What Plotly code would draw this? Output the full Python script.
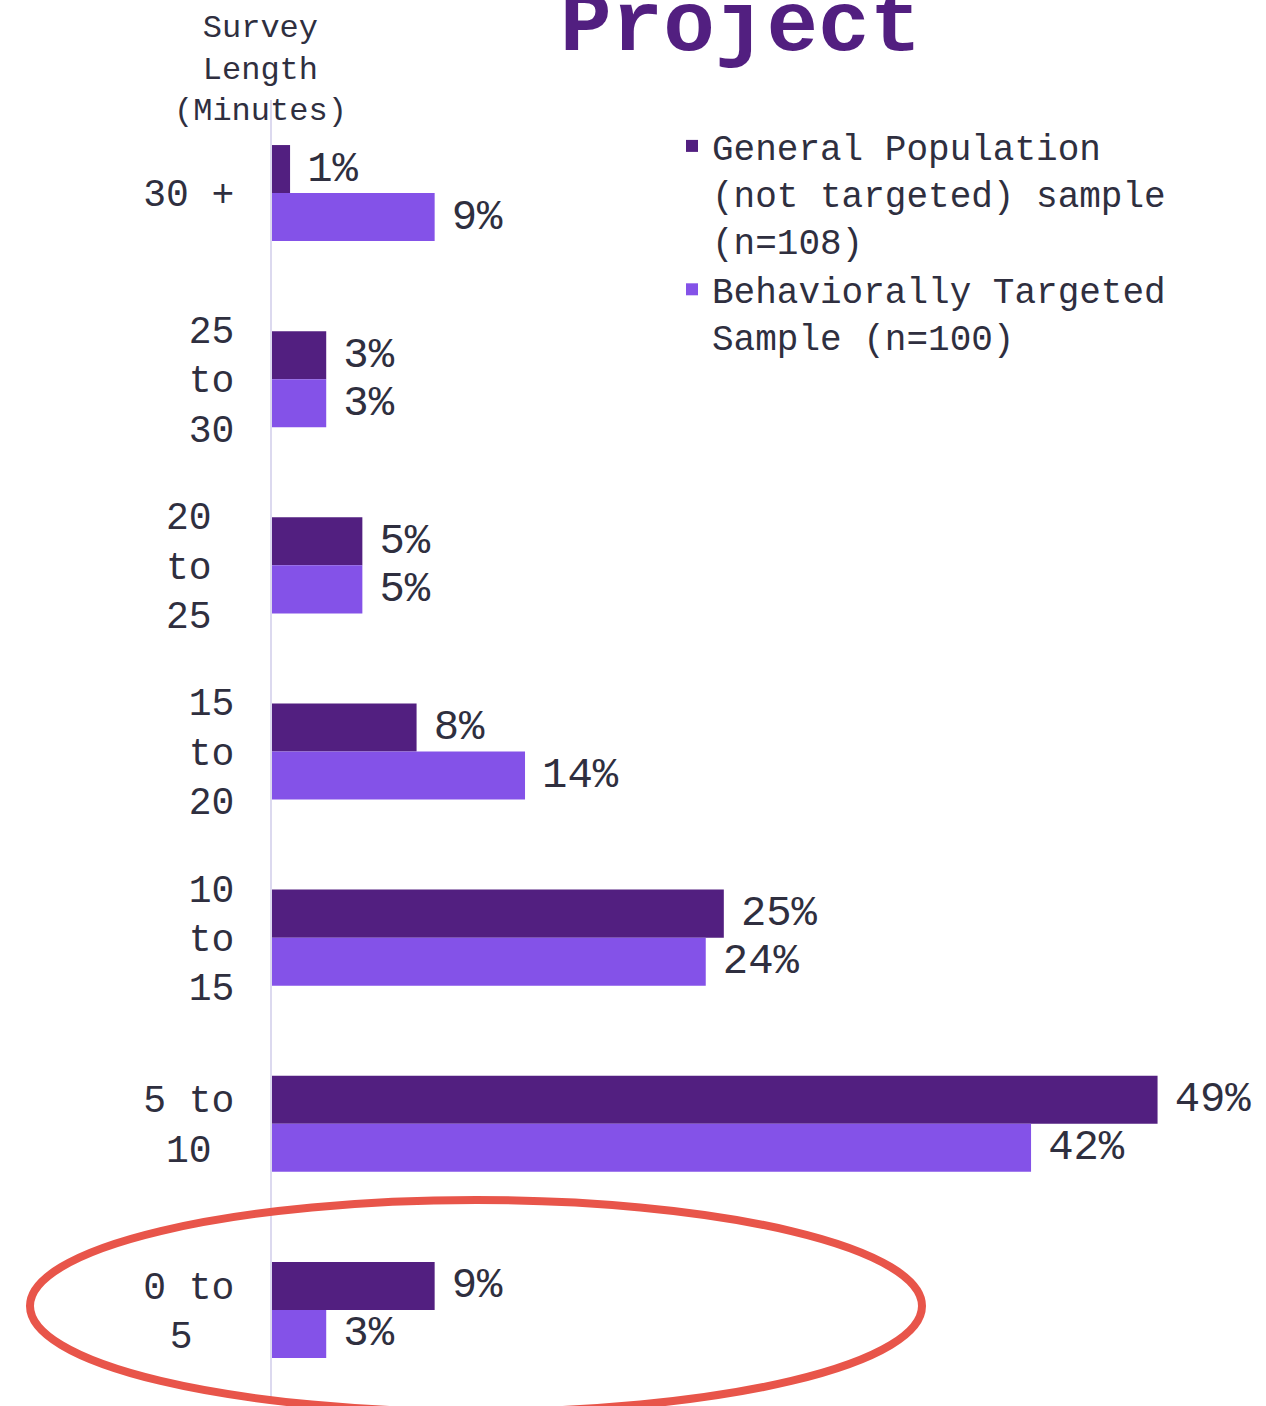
import plotly.graph_objects as go

# Survey length categories, top to bottom
categories = ["30 +", "25 to 30", "20 to 25", "15 to 20", "10 to 15", "5 to 10", "0 to 5"]
# Tick text with manual line breaks (monospace, nbsp pads keep lines aligned)
tick_labels = [
    "30 +",
    "25<br>to<br>30",
    "20\u00a0<br>to\u00a0<br>25\u00a0",
    "15<br>to<br>20",
    "10<br>to<br>15",
    "5 to<br>10\u00a0",
    "0 to<br>5\u00a0\u2002",
]

general_pop = [1, 3, 5, 8, 25, 49, 9]
behav_targeted = [9, 3, 5, 14, 24, 42, 3]

series_names = [
    "General Population<br>(not targeted) sample<br>(n=108)",
    "Behaviorally Targeted<br>Sample (n=100)",
]
series_colors = ["#521f80", "#8452e8"]

FONT = "Liberation Mono, Courier New, monospace"
TEXT_COLOR = "#2f2f3f"

fig = go.Figure()
for name, vals, col in zip(series_names, [general_pop, behav_targeted], series_colors):
    fig.add_trace(go.Bar(
        y=categories,
        x=vals,
        orientation="h",
        name=name,
        marker=dict(color=col, line=dict(width=0)),
        text=[f"\u2004{v}%" for v in vals],
        textposition="outside",
        cliponaxis=False,
        textfont=dict(family=FONT, size=44, color=TEXT_COLOR),
    ))

W, H = 1266, 1406
L, R, T, B = 272, 0, 100, 3
PW, PH = W - L - R, H - T - B


def px_x(x):
    return (x - L) / PW


def px_y(y):
    return (H - B - y) / PH


fig.update_layout(
    width=W, height=H,
    margin=dict(l=L, r=R, t=T, b=B),
    paper_bgcolor="white",
    plot_bgcolor="white",
    barmode="group",
    bargap=0.484,
    bargroupgap=0,
    font=dict(family=FONT, color=TEXT_COLOR),
    showlegend=True,
    legend=dict(
        x=px_x(672), y=px_y(116), xanchor="left", yanchor="top",
        font=dict(family=FONT, size=36, color=TEXT_COLOR),
        valign="top",
        itemwidth=30,
        bgcolor="rgba(0,0,0,0)",
        traceorder="normal",
    ),
    xaxis=dict(
        range=[0, 55],
        showgrid=False, zeroline=False, showline=False,
        showticklabels=False, ticks="",
    ),
    yaxis=dict(
        type="category",
        categoryorder="array",
        categoryarray=categories,
        autorange="reversed",
        tickmode="array",
        tickvals=categories,
        ticktext=tick_labels,
        tickfont=dict(family=FONT, size=38, color=TEXT_COLOR),
        ticks="",
        ticklabelstandoff=28,
        showgrid=False, zeroline=False,
        showline=True, linecolor="#dcd9ef", linewidth=2,
    ),
)

# Axis title above the category labels
fig.add_annotation(
    text="Survey<br>Length<br>(Minutes)",
    xref="paper", yref="paper",
    x=px_x(260), y=px_y(70), xanchor="center", yanchor="middle",
    showarrow=False, align="center",
    font=dict(family=FONT, size=32, color=TEXT_COLOR),
)

# Chart title
fig.add_annotation(
    text="<b>Project</b>",
    xref="paper", yref="paper",
    x=px_x(740), y=px_y(27), xanchor="center", yanchor="middle",
    showarrow=False,
    font=dict(family=FONT, size=86, color="#521f80"),
)

# Highlight ring around the shortest survey length
fig.add_shape(
    type="circle",
    xref="paper", yref="paper",
    x0=px_x(30), x1=px_x(922), y0=px_y(1412), y1=px_y(1200),
    line=dict(color="#e8554a", width=8),
    layer="above",
)

fig.write_html("out.html")
